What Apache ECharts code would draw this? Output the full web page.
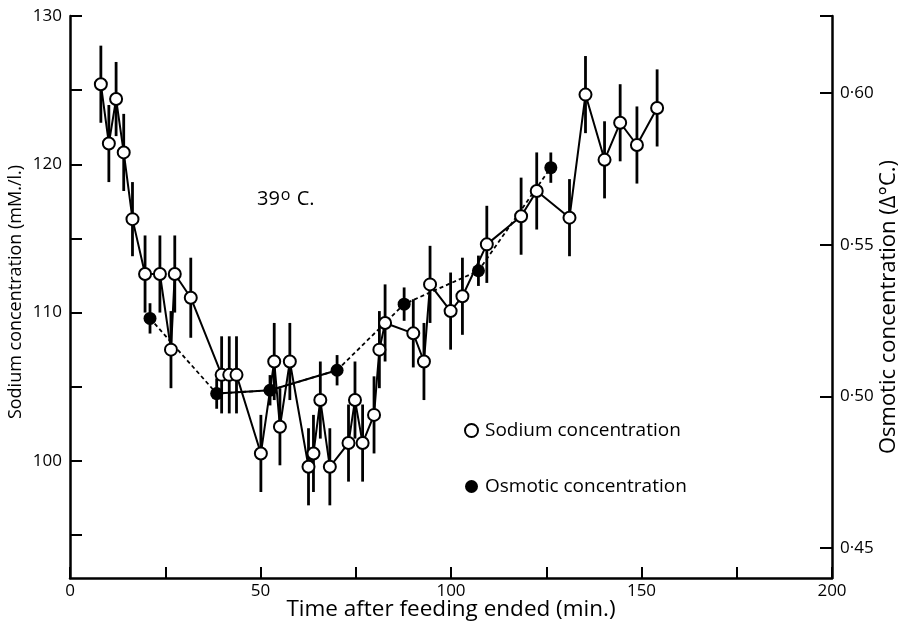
<!DOCTYPE html>
<html>
<head>
<meta charset="utf-8">
<script src="https://cdn.jsdelivr.net/npm/echarts@6/dist/echarts.min.js"></script>
<style>
html,body{margin:0;padding:0;background:#fff;}
#chart{width:903px;height:627px;}
</style>
</head>
<body>
<div id="chart"></div>
<script>
// Sodium concentration (mM./l.) — open circles, solid line
const naTime  = [8.1, 10.2, 12.1, 14.1, 16.4, 19.7, 23.6, 26.5, 27.5, 31.7, 39.8, 41.8, 43.7, 50.1, 53.6, 55.1, 57.7, 62.6, 63.9, 65.7, 68.2, 73.1, 74.8, 76.8, 79.8, 81.2, 82.7, 90.1, 92.9, 94.5, 99.9, 103.0, 109.4, 118.4, 122.5, 131.1, 135.3, 140.3, 144.4, 148.8, 154.1];
const naValue = [125.4, 121.4, 124.4, 120.8, 116.3, 112.6, 112.6, 107.5, 112.6, 111.0, 105.8, 105.8, 105.8, 100.5, 106.7, 102.3, 106.7, 99.6, 100.5, 104.1, 99.6, 101.2, 104.1, 101.2, 103.1, 107.5, 109.3, 108.6, 106.7, 111.9, 110.1, 111.1, 114.6, 116.5, 118.2, 116.4, 124.7, 120.3, 122.8, 121.3, 123.8];
const naErr   = [2.6, 2.6, 2.5, 2.6, 2.5, 2.6, 2.6, 2.6, 2.6, 2.7, 2.6, 2.6, 2.6, 2.6, 2.6, 2.6, 2.6, 2.6, 2.6, 2.6, 2.6, 2.6, 2.6, 2.6, 2.6, 2.6, 2.6, 2.3, 2.6, 2.6, 2.6, 2.6, 2.6, 2.6, 2.6, 2.6, 2.6, 2.6, 2.6, 2.6, 2.6];

// Osmotic concentration (Δ°C.) — filled circles, dashed line
const osmTime  = [21.0, 38.5, 52.5, 70.1, 87.7, 107.2, 126.2];
const osmValue = [0.5257, 0.5009, 0.5020, 0.5086, 0.5304, 0.5414, 0.5754];
const osmErr   = [0.005, 0.005, 0.005, 0.005, 0.0055, 0.005, 0.005];

// Axis ticks / labels
const xTicks = [0, 25, 50, 75, 100, 125, 150, 175, 200];
const xLabels = [0, 50, 100, 150, 200];
const naTicks = [95, 100, 105, 110, 115, 120, 125, 130];
const naLabels = [100, 110, 120, 130];
const osmTicks = [0.45, 0.50, 0.55, 0.60, 0.6254];
const osmLabels = [0.45, 0.50, 0.55, 0.60];

const FONT = 'Open Sans';
const naData = naTime.map((t, i) => [t, naValue[i]]);
const naErrData = naTime.map((t, i) => [t, naValue[i], naErr[i]]);
const osmData = osmTime.map((t, i) => [t, osmValue[i]]);
const osmErrData = osmTime.map((t, i) => [t, osmValue[i], osmErr[i]]);

function errRender(params, api) {
  const x = api.value(0), y = api.value(1), e = api.value(2);
  const p1 = api.coord([x, y + e]);
  const p2 = api.coord([x, y - e]);
  return {
    type: 'line',
    shape: { x1: p1[0], y1: p1[1], x2: p2[0], y2: p2[1] },
    style: { stroke: '#000', lineWidth: 2.8 }
  };
}

const chart = echarts.init(document.getElementById('chart'), null, { renderer: 'canvas' });
const axisLineStyle = { color: '#000', width: 2.5 };

chart.setOption({
  animation: false,
  backgroundColor: '#fff',
  textStyle: { fontFamily: FONT, color: '#000' },
  grid: { left: 70, right: 71, top: 16, bottom: 49, containLabel: false, outerBoundsMode: 'none' },
  legend: {
    orient: 'vertical',
    left: 459,
    top: 416,
    itemGap: 37,
    itemWidth: 13,
    itemHeight: 13,
    selectedMode: false,
    textStyle: { fontFamily: FONT, fontSize: 19, color: '#000', padding: [0, 0, 0, 2] },
    data: [
      { name: 'Sodium concentration', icon: 'circle', itemStyle: { color: '#fff', borderColor: '#000', borderWidth: 2 } },
      { name: 'Osmotic concentration', icon: 'circle', itemStyle: { color: '#000', borderWidth: 0 } }
    ]
  },
  graphic: [{
    type: 'text',
    left: 257,
    top: 187,
    style: {
      text: '{a|39}{b|o}{a| C.}',
      rich: {
        a: { fontFamily: FONT, fontSize: 20, fill: '#000' },
        b: { fontFamily: FONT, fontSize: 16, fill: '#000', verticalAlign: 'top', padding: [0, 1, 9, 1] }
      }
    }
  }, {
    type: 'text',
    x: 16, y: 292,
    rotation: Math.PI / 2,
    style: {
      text: 'Sodium concentration (mM./l.)',
      fontFamily: FONT, fontSize: 18, fill: '#000',
      align: 'center', verticalAlign: 'middle'
    }
  }, {
    type: 'text',
    x: 889, y: 307,
    rotation: Math.PI / 2,
    style: {
      text: 'Osmotic concentration (Δ°C.)',
      fontFamily: FONT, fontSize: 22, fill: '#000',
      align: 'center', verticalAlign: 'middle'
    }
  }],
  xAxis: {
    type: 'value',
    min: 0, max: 200, interval: 25,
    name: 'Time after feeding ended (min.)',
    nameLocation: 'middle',
    nameGap: 20,
    nameMoveOverlap: false,
    nameTextStyle: { fontFamily: FONT, fontSize: 22.5, color: '#000' },
    axisLine: { show: true, onZero: false, lineStyle: axisLineStyle },
    axisTick: { show: true, inside: true, length: 11, lineStyle: { color: '#000', width: 2 }, customValues: xTicks },
    axisLabel: { fontFamily: FONT, fontSize: 17, color: '#000', margin: 5, customValues: xLabels },
    splitLine: { show: false }
  },
  yAxis: [{
    type: 'value',
    position: 'left',
    min: 92.1, max: 130,
    axisLine: { show: true, onZero: false, lineStyle: axisLineStyle },
    axisTick: { show: true, inside: true, length: 12, lineStyle: { color: '#000', width: 2 }, customValues: naTicks },
    axisLabel: { fontFamily: FONT, fontSize: 17, color: '#000', margin: 8, customValues: naLabels },
    splitLine: { show: false }
  }, {
    type: 'value',
    position: 'right',
    min: 0.4401, max: 0.6254,
    axisLine: { show: true, onZero: false, lineStyle: axisLineStyle },
    axisTick: { show: true, inside: true, length: 12, lineStyle: { color: '#000', width: 2 }, customValues: osmTicks },
    axisLabel: {
      fontFamily: FONT, fontSize: 17, color: '#000', margin: 8, customValues: osmLabels,
      formatter: v => v.toFixed(2).replace('.', '·')
    },
    splitLine: { show: false }
  }],
  series: [
    {
      name: 'naErr', type: 'custom', xAxisIndex: 0, yAxisIndex: 0,
      data: naErrData, renderItem: errRender, z: 1, silent: true
    },
    {
      name: 'osmErr', type: 'custom', xAxisIndex: 0, yAxisIndex: 1,
      data: osmErrData, renderItem: errRender, z: 1, silent: true
    },
    {
      name: 'Osmotic concentration', type: 'line', xAxisIndex: 0, yAxisIndex: 1,
      data: osmData,
      symbol: 'circle', symbolSize: 13,
      itemStyle: { color: '#000', borderWidth: 0 },
      lineStyle: { color: '#000', width: 1.8, type: [4, 3] },
      emphasis: { disabled: true }, z: 3
    },
    {
      name: 'osmSolid', type: 'line', xAxisIndex: 0, yAxisIndex: 1,
      data: osmData.slice(1, 4),
      symbol: 'none',
      lineStyle: { color: '#000', width: 2 },
      emphasis: { disabled: true }, z: 2, silent: true
    },
    {
      name: 'Sodium concentration', type: 'line', xAxisIndex: 0, yAxisIndex: 0,
      data: naData,
      symbol: 'circle', symbolSize: 12,
      itemStyle: { color: '#fff', borderColor: '#000', borderWidth: 2 },
      lineStyle: { color: '#000', width: 2 },
      emphasis: { disabled: true }, z: 4
    }
  ]
});
</script>
</body>
</html>
